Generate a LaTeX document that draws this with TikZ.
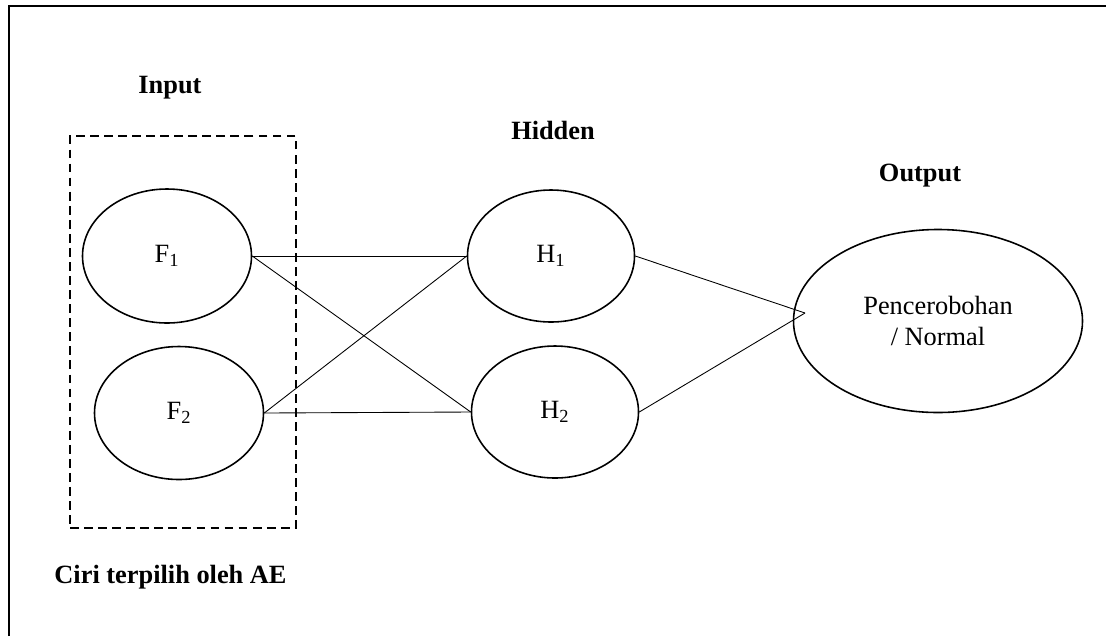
\documentclass[tikz,border=0pt]{standalone}
\usepackage{fontspec}
\setmainfont{Liberation Serif}
\usepackage{tikz}
\usetikzlibrary{shapes.geometric}

\begin{document}
\begin{tikzpicture}[
    every node/.style={font=\fontsize{15}{18}\selectfont},
    unit/.style={ellipse,draw=black,line width=0.9pt,inner sep=0pt},
    layer/.style={font=\fontsize{15}{18}\selectfont\bfseries},
    link/.style={line width=0.5pt}
  ]

      \useasboundingbox (0,0) rectangle (22.12,-12.72);
      \draw[line width=1.1pt] (0.18,-12.72) -- (0.18,-0.12) -- (22.12,-0.12);

      \node[rectangle,draw=black,line width=1.2pt,dash pattern=on 5pt off 3pt,minimum width=4.52cm,minimum height=7.84cm] (box) at (3.66,-6.64){};
      \node[layer] (in) at (3.40,-1.76){Input};
      \node[layer] (hid) at (11.06,-2.60){Hidden};
      \node[layer] (outl) at (18.40,-3.52){Output};
      \node[layer] (ciri) at (3.41,-11.54){Ciri terpilih oleh AE};

      \node[unit,minimum width=3.38cm,minimum height=2.68cm] (f1) at (3.34,-5.12){F\textsubscript{1}};
      \node[unit,minimum width=3.38cm,minimum height=2.66cm] (f2) at (3.58,-8.26){F\textsubscript{2}};
      \node[unit,minimum width=3.34cm,minimum height=2.64cm] (h1) at (11.02,-5.12){H\textsubscript{1}};
      \node[unit,minimum width=3.34cm,minimum height=2.64cm] (h2) at (11.10,-8.24){H\textsubscript{2}};
      \node[unit,minimum width=5.78cm,minimum height=3.66cm,align=center] (out) at (18.76,-6.42){Pencerobohan\\/ Normal};
      \coordinate (join) at (16.10,-6.26);

      \draw[link] (f1.east) -- (h1.west);
      \draw[link] (f1.east) -- (h2.west);
      \draw[link] (f2.east) -- (h1.west);
      \draw[link] (f2.east) -- (h2.west);
      \draw[link] (h1.east) -- (join);
      \draw[link] (h2.east) -- (join);

    \end{tikzpicture}
\end{document}
